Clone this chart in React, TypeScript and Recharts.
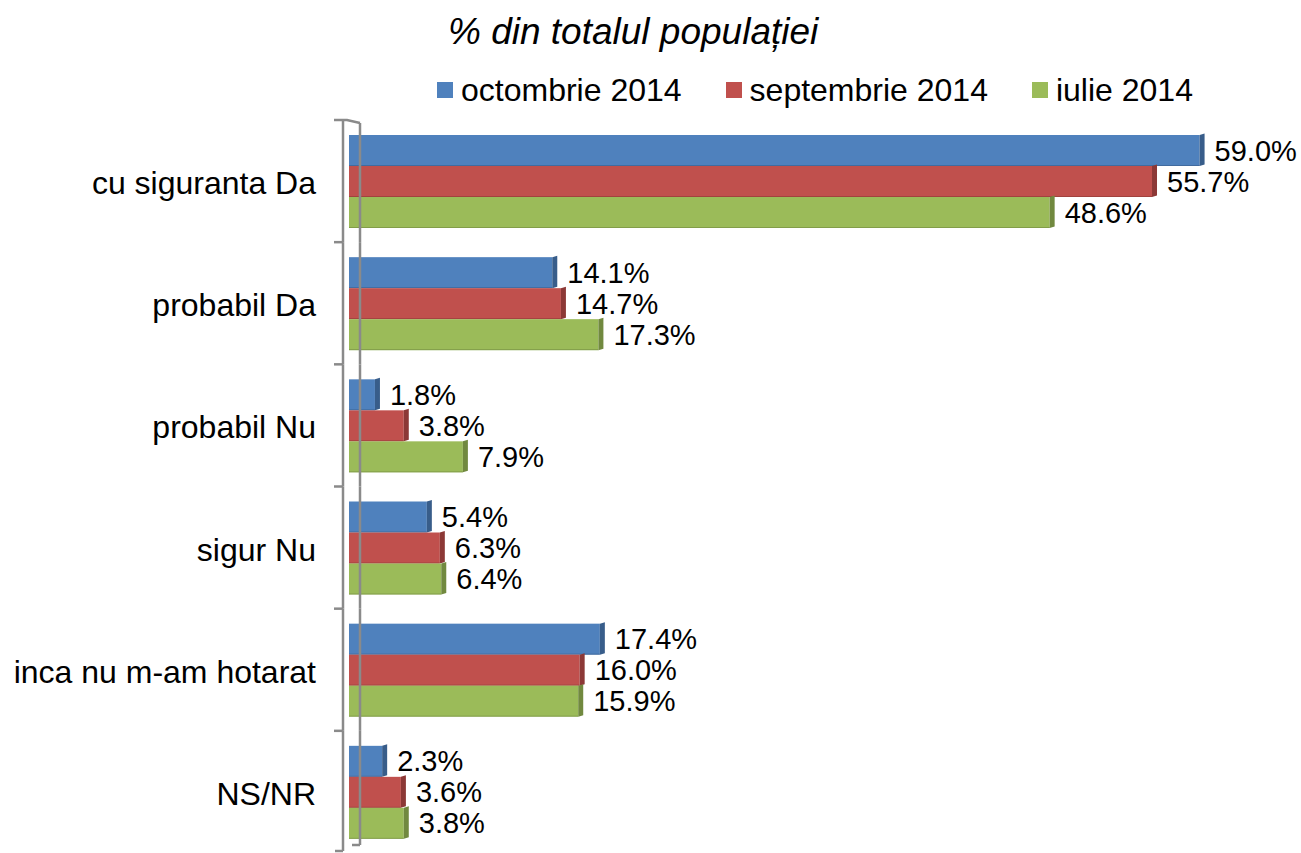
import React from "react";
import { Bar, BarChart, LabelList, XAxis, YAxis } from "recharts";

const categories = [
  "cu siguranta Da",
  "probabil Da",
  "probabil Nu",
  "sigur Nu",
  "inca nu m-am hotarat",
  "NS/NR",
];
const octombrie2014 = [59.0, 14.1, 1.8, 5.4, 17.4, 2.3];
const septembrie2014 = [55.7, 14.7, 3.8, 6.3, 16.0, 3.6];
const iulie2014 = [48.6, 17.3, 7.9, 6.4, 15.9, 3.8];

const series = [
  { key: "oct", name: "octombrie 2014", color: "#4F81BD", side: "#385D8A" },
  { key: "sep", name: "septembrie 2014", color: "#C0504D", side: "#8C3836" },
  { key: "iul", name: "iulie 2014", color: "#9BBB59", side: "#71893F" },
];

const data = categories.map((category, i) => ({
  category,
  oct: octombrie2014[i],
  sep: septembrie2014[i],
  iul: iulie2014[i],
}));

const W = 1301;
const H = 853;
const MARGIN = { top: 120, right: 87, bottom: 0, left: 0 };
const FONT = "Arial, 'Liberation Sans', Helvetica, sans-serif";
const AXIS = "#8a8a8a";

const bandHalf = (H - MARGIN.top - MARGIN.bottom) / categories.length / 2;

function CategoryTick(props: any) {
  const { x, y, payload, index } = props;
  const outer = x - 6;
  const inner = x + 11;
  const top = y - bandHalf;
  const bottom = y + bandHalf;
  const last = index === categories.length - 1;
  return (
    <g>
      <line x1={outer} y1={top} x2={outer} y2={last ? bottom - 2 : bottom} stroke={AXIS} strokeWidth={2.5} />
      <line x1={inner} y1={index === 0 ? top + 3 : top} x2={inner} y2={last ? bottom - 8 : bottom} stroke={AXIS} strokeWidth={2.5} />
      {index === 0 ? (
        <polyline
          points={`${outer - 9},${top} ${outer + 4},${top} ${inner},${top + 3}`}
          fill="none"
          stroke={AXIS}
          strokeWidth={2.5}
        />
      ) : (
        <line x1={outer - 9} y1={top} x2={outer} y2={top} stroke={AXIS} strokeWidth={2.5} />
      )}
      {last && (
        <>
          <line x1={outer - 8} y1={bottom - 2} x2={outer} y2={bottom - 2} stroke={AXIS} strokeWidth={2.5} />
          <line x1={inner - 8} y1={bottom - 8} x2={inner} y2={bottom - 8} stroke={AXIS} strokeWidth={2.5} />
        </>
      )}
      <text
        x={x - 33}
        y={y + 2}
        textAnchor="end"
        dominantBaseline="central"
        fontFamily={FONT}
        fontSize={32}
        fill="#000"
      >
        {payload.value}
      </text>
    </g>
  );
}

function bar3d(side: string) {
  return (props: any) => {
    const { x, y, width, height, fill } = props;
    if (!width || width <= 0) return <g />;
    const d = 5;
    return (
      <g>
        <rect x={x} y={y} width={width} height={height} fill={fill} />
        <polygon
          points={`${x + width},${y} ${x + width + d},${y - 1.5} ${x + width + d},${y + height - 1.5} ${x + width},${y + height}`}
          fill={side}
        />
        <line x1={x} y1={y + height - 0.5} x2={x + width} y2={y + height - 0.5} stroke={side} strokeOpacity={0.6} strokeWidth={1} />
      </g>
    );
  };
}

function ValueLabel(props: any) {
  const { x, y, width, height, value } = props;
  return (
    <text
      x={x + width + 15}
      y={y + height / 2}
      dominantBaseline="central"
      fontFamily={FONT}
      fontSize={29}
      fill="#000"
    >
      {Number(value).toFixed(1)}%
    </text>
  );
}

export default function App() {
  return (
    <div style={{ position: "absolute", left: 0, top: 0, width: W, height: H, background: "#fff" }}>
      <div
        style={{
          position: "absolute",
          left: 448,
          top: 11,
          fontFamily: FONT,
          fontStyle: "italic",
          fontSize: 37,
          lineHeight: "42px",
          color: "#000",
          whiteSpace: "nowrap",
        }}
      >
        % din totalul populației
      </div>
      <div
        style={{
          position: "absolute",
          left: 437,
          top: 70,
          display: "flex",
          alignItems: "center",
          fontFamily: FONT,
          fontSize: 32,
          lineHeight: "40px",
          color: "#000",
          whiteSpace: "nowrap",
        }}
      >
        {series.map((s) => (
          <div key={s.key} style={{ display: "flex", alignItems: "center", marginRight: 44 }}>
            <span style={{ display: "inline-block", width: 16, height: 16, background: s.color, marginRight: 8 }} />
            <span>{s.name}</span>
          </div>
        ))}
      </div>
      <BarChart
        width={W}
        height={H}
        data={data}
        layout="vertical"
        margin={MARGIN}
        barCategoryGap={15}
        barGap={0}
      >
        <XAxis type="number" domain={[0, 60]} hide />
        <YAxis
          type="category"
          dataKey="category"
          width={349}
          axisLine={false}
          tickLine={false}
          tickSize={0}
          tickMargin={0}
          tick={<CategoryTick />}
          interval={0}
        />
        {series.map((s) => (
          <Bar
            key={s.key}
            dataKey={s.key}
            name={s.name}
            fill={s.color}
            shape={bar3d(s.side)}
            isAnimationActive={false}
          >
            <LabelList dataKey={s.key} content={<ValueLabel />} />
          </Bar>
        ))}
      </BarChart>
    </div>
  );
}
